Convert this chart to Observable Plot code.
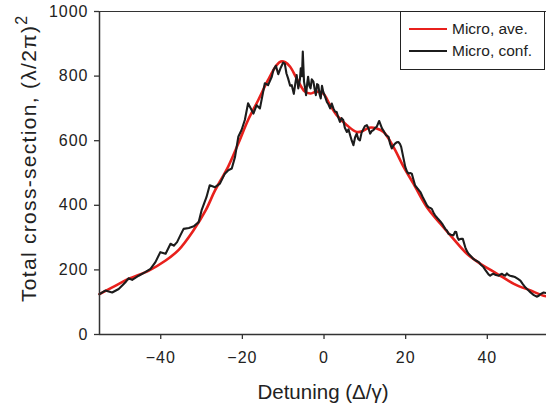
<!DOCTYPE html>
<html>
<head>
<meta charset="utf-8">
<script src="https://cdn.jsdelivr.net/npm/d3@7"></script>
<script src="https://cdn.jsdelivr.net/npm/@observablehq/plot@0.6"></script>
<style>
  html, body { margin: 0; padding: 0; background: #fff; }
  #wrap { position: relative; width: 546px; height: 408px; overflow: hidden; font-family: "Liberation Sans", Arial, Helvetica, sans-serif; }
  #wrap svg g[aria-label$="tick label"] text { letter-spacing: 1px; }
  #legend { position: absolute; left: 400px; top: 11px; width: 145px; height: 59px; border: 1.5px solid #222; background: #fff; box-sizing: border-box; }
  .li { position: absolute; left: 8px; display: flex; align-items: center; font-size: 15.5px; color: #222; }
  .li span.sw { display: inline-block; width: 38px; height: 0; margin-right: 5px; }
</style>
</head>
<body>
<div id="wrap"></div>
<script>
// Red: averaged (Micro, ave.)
const aveX = [-55, -52, -47.9, -42.9, -38.8, -35.6, -32, -29, -26.7, -23.5, -21, -18.6, -16.1, -13.7, -11.6, -10.6, -9.5, -8.3, -6.7, -4.7, -3.4, -1.8, -0.2, 1.5, 3.1, 5.6, 8, 9.5, 11, 12.9, 14.6, 17, 19.5, 21.9, 25.2, 28.5, 31.7, 35, 38.3, 42.4, 46.5, 50.6, 53.8, 54.5];
const aveY = [125, 145, 172, 198, 229, 262, 322, 384, 446, 519, 591, 664, 726, 788, 834, 845, 843, 829, 793, 752, 746, 752, 746, 710, 679, 648, 627, 630, 640, 638, 627, 581, 519, 467, 394, 343, 296, 250, 219, 188, 157, 136, 120, 118];

// Black: configuration (Micro, conf.)
const confX = [-55, -53.6, -51.9, -50.3, -48.7, -47.9, -47.0, -45.4, -43.8, -42.5, -41.3, -40.1, -38.8, -37.6, -36.8, -36.0, -35.2, -34.4, -33.1, -31.9, -30.7, -30.0, -28.8, -28.0, -26.7, -25.5, -24.3, -23.5, -22.6, -21.8, -21.0, -20.2, -19.4, -18.6, -17.3, -16.5, -15.7, -14.5, -13.7, -12.8, -12.4, -11.8, -11.2, -10.6, -10.0, -9.6, -9.2, -8.8, -8.3, -7.9, -7.4, -7.0, -6.7, -6.3, -5.9, -5.7, -5.4, -5.2, -4.9, -4.6, -4.4, -4.1, -3.9, -3.6, -3.3, -3.0, -2.6, -2.3, -2.0, -1.7, -1.4, -1.1, -0.8, -0.5, -0.2, 0.3, 0.7, 1.1, 1.5, 1.9, 2.3, 2.7, 3.1, 3.5, 3.9, 4.3, 4.7, 5.1, 5.6, 6.0, 6.4, 6.8, 7.2, 7.6, 8.0, 8.4, 8.8, 9.2, 9.6, 10.0, 10.5, 10.9, 11.3, 11.7, 12.1, 12.5, 12.9, 13.5, 14.2, 14.7, 15.2, 15.8, 16.2, 16.6, 17.0, 17.4, 17.8, 18.2, 18.6, 18.9, 19.4, 19.9, 20.3, 20.7, 21.1, 21.5, 21.9, 22.3, 22.9, 23.6, 24.2, 24.8, 25.2, 25.6, 26.0, 26.4, 26.8, 27.2, 27.8, 28.5, 29.1, 29.7, 30.1, 30.5, 31.1, 31.7, 32.1, 32.4, 32.7, 33.0, 33.5, 34.0, 34.6, 35.0, 35.4, 36.0, 36.6, 37.2, 37.9, 38.5, 39.1, 39.5, 39.9, 40.3, 40.7, 41.1, 41.5, 42.1, 42.8, 43.2, 43.6, 44.0, 44.4, 44.8, 45.2, 45.6, 46.2, 46.9, 47.5, 48.1, 48.7, 49.3, 50.0, 50.6, 51.4, 52.2, 52.6, 53.0, 53.8, 54.5];
const confY = [125, 136, 130, 141, 161, 174, 169, 182, 193, 203, 224, 255, 250, 281, 275, 286, 307, 327, 330, 335, 348, 384, 425, 462, 456, 467, 498, 508, 514, 550, 612, 633, 664, 716, 684, 710, 700, 778, 772, 798, 819, 832, 806, 826, 842, 838, 808, 793, 770, 772, 745, 780, 803, 762, 790, 824, 800, 876, 783, 760, 741, 780, 798, 770, 762, 790, 783, 760, 741, 775, 772, 745, 731, 770, 752, 735, 720, 712, 700, 715, 700, 690, 689, 672, 658, 670, 664, 640, 627, 635, 617, 600, 586, 610, 622, 605, 601, 625, 635, 645, 648, 638, 622, 630, 633, 640, 643, 661, 638, 628, 617, 612, 590, 576, 585, 591, 595, 596, 590, 581, 550, 519, 505, 498, 500, 498, 480, 462, 452, 441, 425, 410, 400, 394, 392, 389, 378, 369, 360, 350, 340, 327, 322, 312, 309, 307, 318, 317, 300, 293, 296, 296, 270, 258, 250, 242, 234, 229, 224, 215, 208, 200, 193, 186, 182, 186, 188, 184, 182, 186, 188, 184, 182, 189, 184, 182, 180, 177, 172, 167, 156, 146, 138, 130, 122, 117, 120, 125, 130, 128];

const xTicks = [-40, -20, 0, 20, 40];
const yTicks = [0, 200, 400, 600, 800, 1000];
const seriesNames = ["Micro, ave.", "Micro, conf."];
const seriesColors = ["#e8201c", "#1c1c1c"];
const xTitle = "Detuning (Δ/γ)";
const yTitle = "Total cross-section, (λ/2π)";

const ave = aveX.map((x, i) => ({x, y: aveY[i]}));
const conf = confX.map((x, i) => ({x, y: confY[i]}));

const chart = Plot.plot({
  width: 546,
  height: 408,
  marginLeft: 99,
  marginRight: 0,
  marginTop: 11,
  marginBottom: 74,
  style: {fontFamily: "'Liberation Sans', Arial, Helvetica, sans-serif", fontSize: "16px", color: "#222", background: "#fff", overflow: "visible"},
  x: {domain: [-55, 54.5], label: null},
  y: {domain: [0, 1000], label: null},
  marks: [
    Plot.line(ave, {x: "x", y: "y", stroke: seriesColors[0], strokeWidth: 2.6, curve: "catmull-rom"}),
    Plot.line(conf, {x: "x", y: "y", stroke: seriesColors[1], strokeWidth: 2.1, strokeLinejoin: "round"}),
    Plot.ruleX([-55], {stroke: "#333", strokeWidth: 1.5}),
    Plot.ruleY([0], {stroke: "#333", strokeWidth: 1.5}),
    Plot.ruleY([1000], {stroke: "#333", strokeWidth: 1.2}),
    Plot.axisX({ticks: xTicks, tickSize: 5, tickPadding: 12, stroke: "#333", strokeWidth: 1.3, fill: "#222"}),
    Plot.axisY({ticks: yTicks, tickFormat: d3.format("d"), tickSize: 5, tickPadding: 6, stroke: "#333", strokeWidth: 1.3, fill: "#222"})
  ]
});

const wrap = document.getElementById("wrap");
wrap.appendChild(chart);

const svg = d3.select(chart);
svg.append("text")
  .attr("x", 323).attr("y", 399)
  .attr("text-anchor", "middle")
  .attr("font-size", 20.5).attr("fill", "#222")
  .text(xTitle);

const yt = svg.append("text")
  .attr("transform", "translate(36,302) rotate(-90)")
  .attr("text-anchor", "start")
  .attr("font-size", 21).attr("fill", "#222");
yt.append("tspan").attr("textLength", 276).attr("lengthAdjust", "spacing").text(yTitle);
yt.append("tspan").attr("dy", -9).attr("font-size", 16).text("2");

// Legend
const lg = document.createElement("div");
lg.id = "legend";
seriesNames.forEach((name, i) => {
  const row = document.createElement("div");
  row.className = "li";
  row.style.top = (i === 0 ? 8 : 30) + "px";
  const sw = document.createElement("span");
  sw.className = "sw";
  sw.style.borderTop = (i === 0 ? 2.6 : 2) + "px solid " + seriesColors[i];
  row.appendChild(sw);
  const t = document.createElement("span");
  t.textContent = name;
  row.appendChild(t);
  lg.appendChild(row);
});
wrap.appendChild(lg);
</script>
</body>
</html>
